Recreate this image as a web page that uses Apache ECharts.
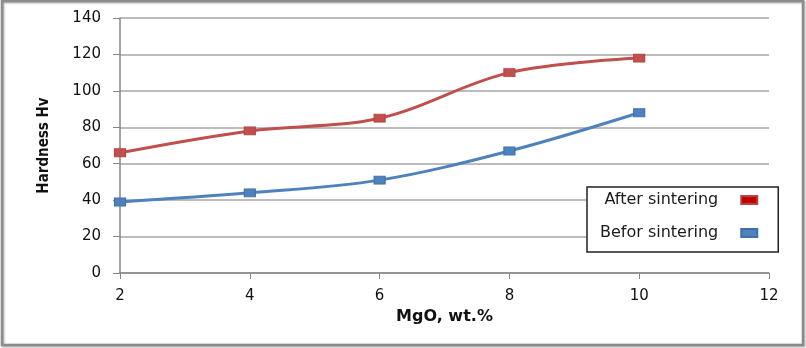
<!DOCTYPE html>
<html>
<head>
<meta charset="utf-8">
<script src="https://cdn.jsdelivr.net/npm/echarts@6/dist/echarts.min.js"></script>
<style>
  html, body { margin: 0; padding: 0; background: #fff; }
  #chart { width: 806px; height: 348px; }
</style>
</head>
<body>
<div id="chart"></div>
<script>
// MgO content (wt.%) and Vickers hardness before/after sintering
const mgo = [2, 4, 6, 8, 10];
const afterSintering = [66, 78, 85, 110, 118];
const beforSintering = [39, 44, 51, 67, 88];
const seriesNames = ['After sintering', 'Befor sintering'];

const font = '"DejaVu Sans", "Open Sans", sans-serif';

const chart = echarts.init(document.getElementById('chart'));
chart.setOption({
  animation: false,
  backgroundColor: '#ffffff',
  graphic: [{
    type: 'rect',
    shape: { x: 2, y: 1, width: 801, height: 344 },
    style: {
      fill: 'rgba(0,0,0,0)',
      stroke: '#8c8c8c',
      lineWidth: 2.5,
      shadowColor: 'rgba(0,0,0,0.35)',
      shadowBlur: 2,
      shadowOffsetX: 1,
      shadowOffsetY: 1
    },
    z: 100
  }],
  grid: { left: 120, right: 37, top: 18, bottom: 75 },
  legend: {
    orient: 'vertical',
    left: 587,
    top: 187,
    align: 'right',
    icon: 'rect',
    itemWidth: 16,
    itemHeight: 8,
    itemGap: 17,
    padding: [5, 20, 11, 13],
    borderColor: '#222',
    borderWidth: 1.5,
    backgroundColor: '#fff',
    textStyle: { fontFamily: font, fontSize: 16, color: '#1a1a1a', padding: [0, 18, 0, 0] },
    data: [
      { name: seriesNames[0], itemStyle: { color: '#c00000' } },
      { name: seriesNames[1], itemStyle: { color: '#4f81bd' } }
    ]
  },
  xAxis: {
    type: 'value',
    min: 2,
    max: 12,
    interval: 2,
    name: 'MgO, wt.%',
    nameLocation: 'middle',
    nameGap: 36,
    nameTextStyle: { fontFamily: font, fontSize: 16, fontWeight: 'bold', color: '#111' },
    axisLine: { lineStyle: { color: '#868686', width: 1.5 } },
    axisTick: { show: true, length: 6, lineStyle: { color: '#868686' } },
    axisLabel: { fontFamily: font, fontSize: 15, color: '#111', margin: 16 },
    splitLine: { show: false }
  },
  yAxis: {
    type: 'value',
    min: 0,
    max: 140,
    interval: 20,
    name: 'Hardness Hv',
    nameLocation: 'middle',
    nameGap: 68,
    nameTextStyle: { fontFamily: '"Liberation Sans Narrow", "DejaVu Sans Condensed", sans-serif', fontSize: 15, fontWeight: 'bold', color: '#111' },
    axisLine: { show: true, lineStyle: { color: '#868686', width: 1.5 } },
    axisTick: { show: true, length: 7, lineStyle: { color: '#868686' } },
    axisLabel: { fontFamily: font, fontSize: 15, color: '#111', margin: 19 },
    splitLine: { show: true, lineStyle: { color: '#a6a6a6', width: 1.5 } }
  },
  series: [
    {
      name: seriesNames[0],
      type: 'line',
      smooth: 0.35,
      data: mgo.map((x, i) => [x, afterSintering[i]]),
      symbol: 'rect',
      symbolSize: [11, 8],
      lineStyle: { color: '#c0504d', width: 3 },
      itemStyle: { color: '#c0504d', borderColor: '#b8433f', borderWidth: 1 }
    },
    {
      name: seriesNames[1],
      type: 'line',
      smooth: 0.35,
      data: mgo.map((x, i) => [x, beforSintering[i]]),
      symbol: 'rect',
      symbolSize: [11, 8],
      lineStyle: { color: '#4f81bd', width: 3 },
      itemStyle: { color: '#4f81bd', borderColor: '#3f70aa', borderWidth: 1 }
    }
  ]
});
</script>
</body>
</html>
